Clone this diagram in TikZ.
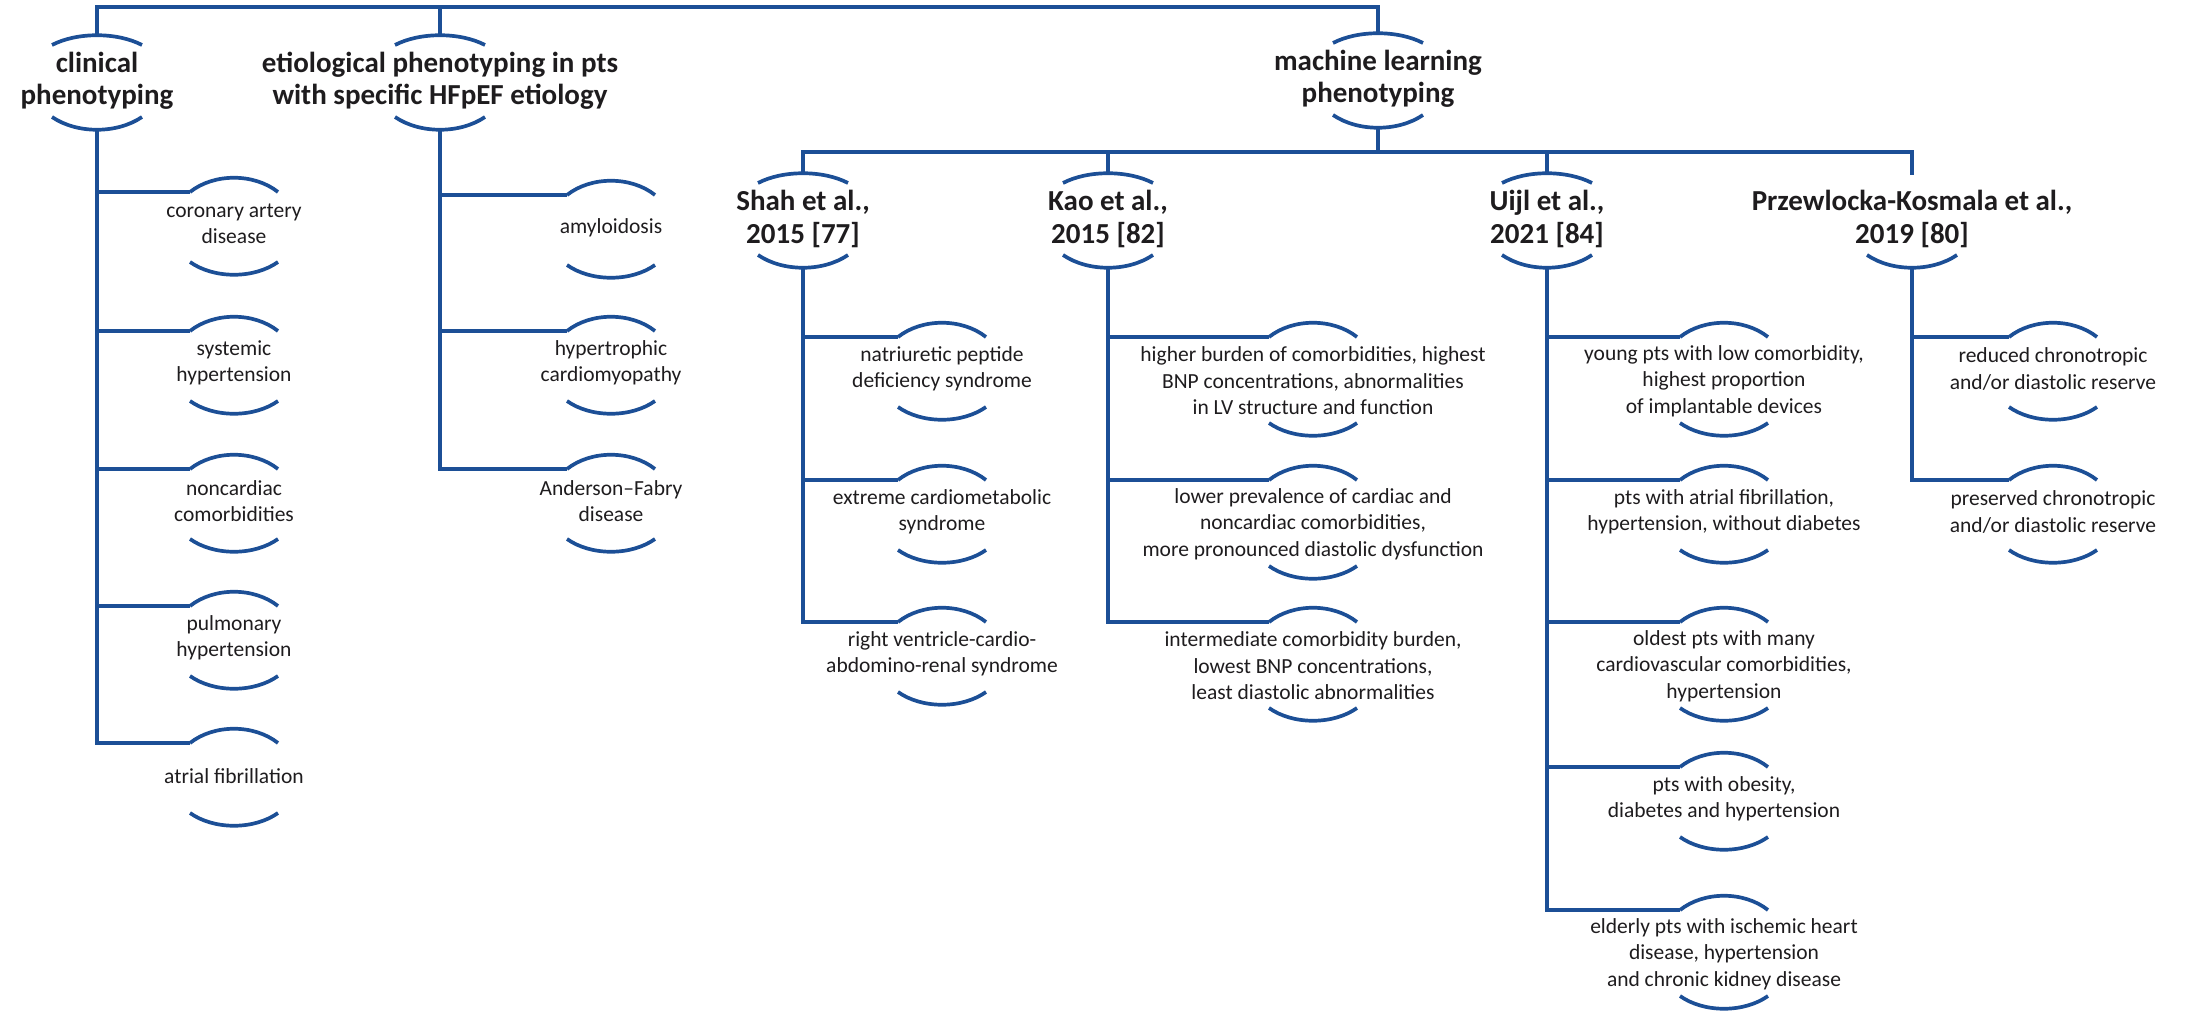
\documentclass[tikz,border=0pt]{standalone}
\usepackage{fontspec}
\setmainfont{Carlito}
\usetikzlibrary{calc}
\definecolor{treeblue}{RGB}{28,79,150}
\definecolor{ink}{RGB}{30,28,30}

\tikzset{
  wire/.style={draw=treeblue, line width=4.6pt, line join=miter},
  brace/.style={draw=treeblue, line width=3.7pt},
  head/.style={text=ink, font=\fontsize{29}{32.5}\selectfont\bfseries, align=center, inner sep=0pt},
  leaf/.style={text=ink, font=\fontsize{21.5}{26.5}\selectfont, align=center, inner sep=0pt},
}

% group heading: name, x, y of text centre, text; arcs above and below
\newcommand\headnode[4]{%
  \node[head] (#1) at (#2,#3) {#4};
  \coordinate (#1-t) at (#2,#3-46);
  \coordinate (#1-b) at (#2,#3+49);
  \draw[brace] (#2-45,#3-36) .. controls +(25,-13) and +(-25,-13) .. (#2+45,#3-36);
  \draw[brace] (#2-45,#3+36) .. controls +(25,17) and +(-25,17) .. (#2+45,#3+36);
}
% leaf: name, x, branch y, text offset, lower arc offset, text
\newcommand\leafnode[6]{%
  \coordinate (#1-t) at (#2-44,#3);
  \node[leaf] (#1) at (#2,#3+#4) {#6};
  \draw[brace] (#1-t) .. controls +(24,-19) and +(-24,-19) .. (#2+44,#3);
  \draw[brace] (#2-44,#3+#5) .. controls +(24,17) and +(-24,17) .. (#2+44,#3+#5);
}

\begin{document}
\begin{tikzpicture}[x=1pt,y=-1pt]
\useasboundingbox (0,0) rectangle (2188,1011);

\coordinate (topbar) at (0,7);
\coordinate (mlbar) at (0,152);

% first level
\headnode{clin}{97}{81}{clinical\\phenotyping}
\headnode{eti}{440}{81}{etiological phenotyping in pts\\with specific HFpEF etiology}
\headnode{ml}{1378}{79}{machine learning\\phenotyping}

% studies
\headnode{shah}{803}{219}{Shah et al.,\\2015 [77]}
\headnode{kao}{1108}{219}{Kao et al.,\\2015 [82]}
\headnode{uijl}{1547}{219}{Uijl et al.,\\2021 [84]}
\node[head] (prz) at (1912,219) {Przewlocka-Kosmala et al.,\\2019 [80]};
\coordinate (prz-t) at (1912,175);
\coordinate (prz-b) at (1912,268);
\draw[brace] (1867,255) .. controls +(25,17) and +(-25,17) .. (1957,255);

% clinical phenotyping
\leafnode{cad}{234}{192}{32}{70}{coronary artery\\disease}
\leafnode{sht}{234}{331}{32}{70}{systemic\\hypertension}
\leafnode{ncc}{234}{469}{32}{70}{noncardiac\\comorbidities}
\leafnode{pht}{234}{606}{32}{70}{pulmonary\\hypertension}
\leafnode{af}{234}{743}{33}{70}{atrial fibrillation}

% etiological phenotyping
\leafnode{amy}{611}{195}{33}{70}{amyloidosis}
\leafnode{hcm}{611}{331}{32}{70}{hypertrophic\\cardiomyopathy}
\leafnode{afd}{611}{469}{32}{70}{Anderson--Fabry\\disease}

% Shah et al.
\leafnode{s1}{942}{337}{32}{70}{natriuretic peptide\\deficiency syndrome}
\leafnode{s2}{942}{480}{32}{70}{extreme cardiometabolic\\syndrome}
\leafnode{s3}{942}{622}{32}{70}{right ventricle-cardio-\\abdomino-renal syndrome}

% Kao et al.
\leafnode{k1}{1313}{337}{44}{86}{higher burden of comorbidities, highest\\BNP concentrations, abnormalities\\in LV structure and function}
\leafnode{k2}{1313}{480}{44}{86}{lower prevalence of cardiac and\\noncardiac comorbidities,\\more pronounced diastolic dysfunction}
\leafnode{k3}{1313}{622}{44}{86}{intermediate comorbidity burden,\\lowest BNP concentrations,\\least diastolic abnormalities}

% Uijl et al.
\leafnode{u1}{1724}{337}{44}{86}{young pts with low comorbidity,\\highest proportion\\of implantable devices}
\leafnode{u2}{1724}{480}{32}{70}{pts with atrial fibrillation,\\hypertension, without diabetes}
\leafnode{u3}{1724}{622}{44}{86}{oldest pts with many\\cardiovascular comorbidities,\\hypertension}
\leafnode{u4}{1724}{767}{32}{70}{pts with obesity,\\diabetes and hypertension}
\leafnode{u5}{1724}{910}{44}{86}{elderly pts with ischemic heart\\disease, hypertension\\and chronic kidney disease}

% Przewlocka-Kosmala et al.
\leafnode{p1}{2053}{337}{32}{70}{reduced chronotropic\\and/or diastolic reserve}
\leafnode{p2}{2053}{480}{32}{70}{preserved chronotropic\\and/or diastolic reserve}

% connectors
\draw[wire] (clin-t) -- (clin-t |- topbar) -- (ml-t |- topbar) -- (ml-t);
\draw[wire] (eti-t) -- (eti-t |- topbar);
\draw[wire] (ml-b) -- (ml-b |- mlbar);
\draw[wire] (shah-t) -- (shah-t |- mlbar) -- (prz-t |- mlbar) -- (prz-t);
\draw[wire] (kao-t) -- (kao-t |- mlbar);
\draw[wire] (uijl-t) -- (uijl-t |- mlbar);

\foreach \c in {cad,sht,ncc,pht,af} \draw[wire] (clin-b) |- (\c-t);
\foreach \c in {amy,hcm,afd} \draw[wire] (eti-b) |- (\c-t);
\foreach \c in {s1,s2,s3} \draw[wire] (shah-b) |- (\c-t);
\foreach \c in {k1,k2,k3} \draw[wire] (kao-b) |- (\c-t);
\foreach \c in {u1,u2,u3,u4,u5} \draw[wire] (uijl-b) |- (\c-t);
\foreach \c in {p1,p2} \draw[wire] (prz-b) |- (\c-t);
\end{tikzpicture}
\end{document}
